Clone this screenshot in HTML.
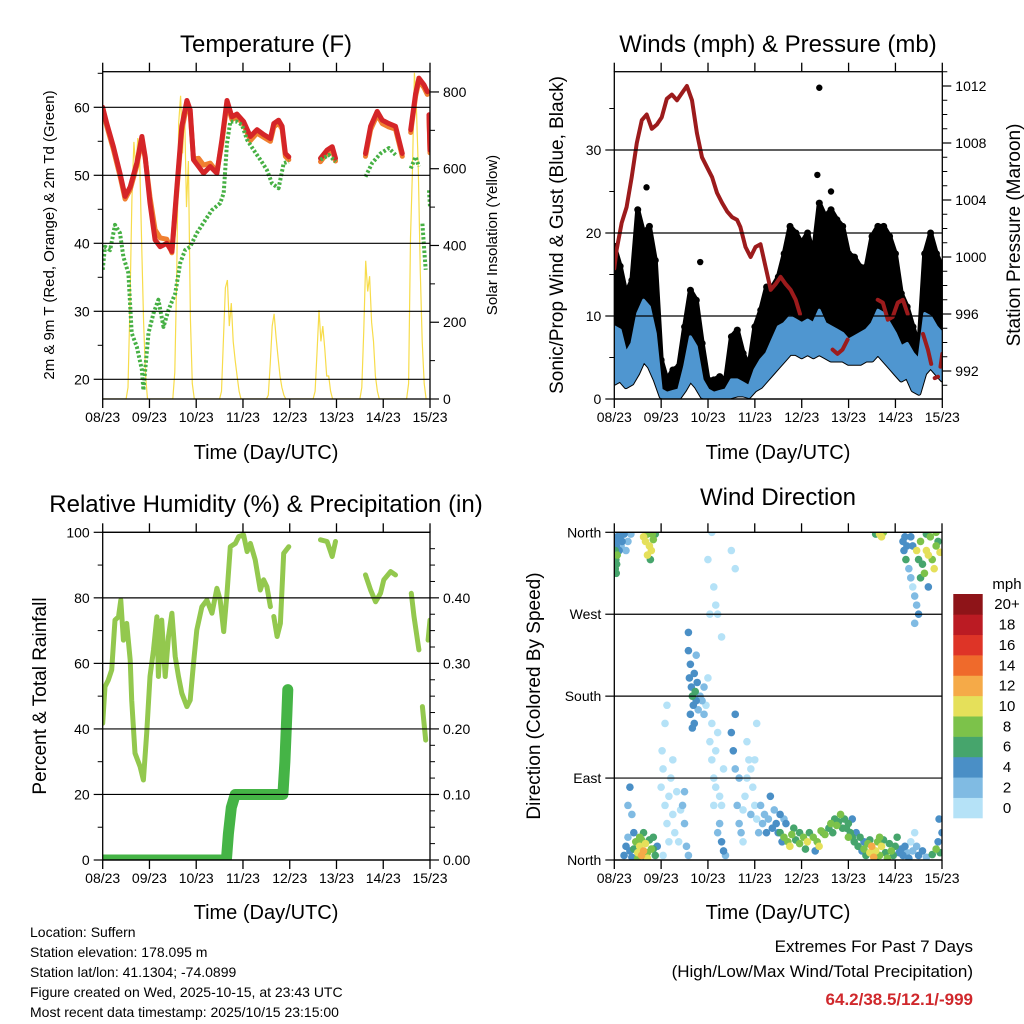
<!DOCTYPE html>
<html><head><meta charset="utf-8">
<style>
html,body{margin:0;padding:0;background:#fff;}
svg{display:block;font-family:"Liberation Sans",Arial,sans-serif;}
</style></head>
<body>
<svg id="chart" width="1024" height="1024" viewBox="0 0 1024 1024" xmlns="http://www.w3.org/2000/svg">
<defs>
<clipPath id="c1"><rect x="102.7" y="71.7" width="327.3" height="327.3"/></clipPath>
<clipPath id="c2"><rect x="614.3" y="71.7" width="328" height="327.3"/></clipPath>
<clipPath id="c3"><rect x="102.7" y="532.3" width="327.3" height="327.7"/></clipPath>
<clipPath id="c4"><rect x="614.3" y="532.3" width="327.7" height="327.7"/></clipPath>
</defs>
<g id="p1"></g>
<g id="p2"></g>
<g id="p3"></g>
<g id="p4"></g>
<text x="266" y="52" font-size="24" text-anchor="middle">Temperature (F)</text>
<text x="778" y="52" font-size="24" text-anchor="middle">Winds (mph) &amp; Pressure (mb)</text>
<text x="266" y="512" font-size="24" text-anchor="middle">Relative Humidity (%) &amp; Precipitation (in)</text>
<text x="778" y="505" font-size="24" text-anchor="middle">Wind Direction</text>
<text x="266" y="459" font-size="20" text-anchor="middle">Time (Day/UTC)</text>
<text x="778" y="459" font-size="20" text-anchor="middle">Time (Day/UTC)</text>
<text x="266" y="919" font-size="20" text-anchor="middle">Time (Day/UTC)</text>
<text x="778" y="919" font-size="20" text-anchor="middle">Time (Day/UTC)</text>
<text transform="translate(54,235) rotate(-90)" font-size="15" text-anchor="middle">2m &amp; 9m T (Red, Orange) &amp; 2m Td (Green)</text>
<text transform="translate(497,235) rotate(-90)" font-size="15" text-anchor="middle">Solar Insolation (Yellow)</text>
<text transform="translate(563,235) rotate(-90)" font-size="19" text-anchor="middle">Sonic/Prop Wind &amp; Gust (Blue, Black)</text>
<text transform="translate(1020,235) rotate(-90)" font-size="19" text-anchor="middle">Station Pressure (Maroon)</text>
<text transform="translate(46,696) rotate(-90)" font-size="19" text-anchor="middle">Percent &amp; Total Rainfall</text>
<text transform="translate(540,696) rotate(-90)" font-size="19" text-anchor="middle">Direction (Colored By Speed)</text>
<g font-size="14">
<text x="30" y="937">Location: Suffern</text>
<text x="30" y="957">Station elevation: 178.095 m</text>
<text x="30" y="977">Station lat/lon: 41.1304; -74.0899</text>
<text x="30" y="997">Figure created on Wed, 2025-10-15, at 23:43 UTC</text>
<text x="30" y="1017">Most recent data timestamp: 2025/10/15 23:15:00</text>
</g>
<g font-size="17" text-anchor="end">
<text x="973" y="952">Extremes For Past 7 Days</text>
<text x="973" y="977">(High/Low/Max Wind/Total Precipitation)</text>
<text x="973" y="1005" fill="#d0282c" font-weight="bold">64.2/38.5/12.1/-999</text>
</g>
</svg>
<script>
// ---------- data ----------
const dayLabels = ["08/23","09/23","10/23","11/23","12/23","13/23","14/23","15/23"];
const tHours = [0,2.1,5.5,8.9,11.5,14.1,17.5,20.1,21.8,24.3,26.9,29.5,32.9,35.5,38.1,40.6,43.2,44.9,46.6,49.2,51.8,55.2,58.6,61.2,63.8,66.3,68.9,72.3,75.8,79.2,82.6,86.1,87.8,90.3,92.1,93.8,95.5,100,111.8,115.2,117.8,119.5,125,134.9,137.5,140.9,143.5,146.9,150.3,153.8,156,158.1,160.6,162.3,164.9,166.6,167,167.5,168];
const tRed    = [60,57.6,54.2,50.3,46.9,48.3,51.8,55.7,52.7,45.9,40.5,39.5,40,38.8,48.3,57.2,61,59.6,52.3,51.3,50.3,51.3,50.3,55.2,61,58.6,59,57.9,55.7,56.7,56,55.4,57.6,58.1,57.2,53.2,52.7,null,52.5,53.7,54.2,52.5,null,53.2,57.2,59.4,58.1,57.6,57.2,53.2,null,56.7,62,64.3,63.3,62.3,null,58.9,53.7];
const tOrange = [59.6,57.2,53.8,49.9,46.5,47.9,51.4,55.3,52.5,46.8,42,40.8,40.6,38.6,47.8,56.6,60.4,59.1,52.4,52.5,51.5,51.8,50.5,54.8,60.6,58.2,58.6,57.5,55.1,56.2,55.6,55,57.1,57.7,56.8,52.8,52.3,null,52,53.3,53.8,52.1,null,52.8,56.7,58.9,57.6,57.1,56.8,52.8,null,56.3,61.6,63.9,62.9,61.9,null,58.5,53.3];
const dHours = [0,1.2,3.8,6.3,8.9,10.6,13.2,14.9,17.5,20.1,20.9,23.5,26.1,28.6,31.2,33.8,37.2,39.8,42.3,44.9,48.3,52.6,56.1,60.3,62.1,63.8,65.5,68.9,71.5,74.1,77.5,80.9,84.3,86.9,90.3,92.9,95.5,100,111.8,116.1,119.5,125,134.9,138.3,142.6,146.9,150.3,155,158.1,160.6,162.3,163,164.1,164.9,165.8,166.5,167.5,168];
const dewPt  = [36.1,39.5,39,42.7,41.5,38,35.6,26.8,24.8,21.4,18.4,26.8,29.7,31.7,27.7,30.2,32.6,37.1,39,39.5,41.5,43.4,44.9,45.9,47.4,54.7,57.9,57.9,57.4,55.2,53.7,52.3,50.8,48.8,48.1,51.8,52,null,52.3,53,52,null,49.8,51.8,53.2,54,53,null,51,52.7,51.3,null,42.9,39.5,36.1,null,47.8,45.4];
const solar = [0,0,0,0,0,0,0,0,0,0,0,0,0,30,250,520,670,600,680,620,400,200,60,0,0,0,0,0,0,0,0,0,0,0,0,0,0,70,320,720,790,640,760,500,620,210,40,0,0,0,0,0,0,0,0,0,0,0,0,0,0,20,160,290,310,190,250,150,100,60,20,0,0,0,0,0,0,0,0,0,0,0,0,0,0,10,90,190,222,160,110,60,30,10,0,0,0,0,0,0,0,0,0,0,0,0,0,0,0,20,120,232,150,190,130,60,60,20,0,0,0,0,0,0,0,0,0,0,0,0,0,0,0,30,180,360,280,320,200,150,60,20,0,0,0,0,0,0,0,0,0,0,0,0,0,0,0,40,420,600,850,760,600,330,150,40,0,0];
const windHours = [0,3,6,9,12,15,18,21,24,27,30,33,36,39,42,45,48,51,54,57,60,63,66,69,72,75,78,81,84,87,90,93,96,99,102,105,108,111,114,117,120,123,126,129,132,135,138,141,144,147,150,153,156,159,162,165,168];
const gustHigh = [18.4,16.0,12.7,14.3,22.8,20.0,20.8,16.7,4.7,2.3,3.5,3.9,8.7,13.1,11.9,6.7,2.3,2.3,2.7,2.3,7.5,8.3,5.5,3.9,8.7,10.7,13.5,13.5,14.7,17.5,20.8,20.0,18.8,20.0,17.5,23.6,22.0,22.8,21.6,20.8,17.5,17.1,15.9,15.9,19.6,20.8,20.8,19.6,17.5,12.7,11.1,8.7,6.3,17.5,20.0,17.5,15.9];
const windHigh = [8.7,8.3,5.5,6.7,10.3,11.9,11.1,7.9,1.1,0.7,0.9,1.1,3.9,7.5,6.3,2.3,1.1,0.7,0.9,1.1,2.3,2.3,1.9,1.5,3.5,4.7,5.5,7.1,8.7,9.1,9.9,9.5,9.1,9.5,9.1,10.7,9.1,8.7,8.3,7.9,7.1,7.5,7.9,8.3,9.1,10.7,10.3,9.1,7.9,6.3,6.7,5.5,4.7,10.3,9.9,8.7,7.9];
const windLow  = [1.9,2.3,1.5,1.9,3.1,4.7,3.9,2.3,0.3,0.1,0.1,0.1,1.1,2.3,1.5,0.3,0.1,0,0,0,0.3,0.5,0.5,0.3,1.1,1.5,2.3,3.1,3.9,4.7,5.5,5.5,5.1,5.5,5.1,5.5,5.1,4.7,4.7,4.7,4.3,4.3,4.3,4.7,4.7,5.5,4.7,3.9,3.1,2.3,2.7,1.1,0.7,3.1,3.9,3.1,2.3];
const gustOutlierHours = [16.5,44,105,104,111];
const gustOutlierVals  = [25.5,16.5,37.5,27,25];
const pHours = [0,1.2,3.8,6.3,8.9,11.5,14.1,16.6,19.2,21.8,24.3,26.9,29.5,32.1,34.6,37.2,39.8,42.3,44.9,47.5,50.1,52.6,55.2,57.8,60.3,62.9,64.6,67.2,69.8,72.3,74.9,77.5,80.1,82.6,85.2,87.8,90.3,92.9,95.1,100,111.8,114.3,116.9,119.5,125,134.9,137.5,140.1,142.6,145.2,147.8,150.3,155,158.1,160.6,162.3,163,164.1,165.8,166.5,167.1,168];
const pressure = [999.2,1000.5,1002.4,1003.5,1005.6,1008,1009.6,1010,1009,1009.3,1009.8,1011.1,1011.4,1011,1011.5,1012,1011,1008.7,1007,1006.3,1005.6,1004.5,1003.8,1003.2,1002.8,1002.6,1002.1,1000.7,1000,1000.7,1000.9,999.3,997.7,998.1,998.6,998.1,997.7,997,996,null,993.5,993.2,993.5,994.2,null,997,996.8,995.6,995.8,996.8,997,996,null,994.6,993.5,992.5,null,991.5,991.6,null,992.3,993.2];
const rhHours = [0,1.2,2.9,4.6,6.3,8.1,9.3,10.6,12.3,14.1,14.9,16.6,19.2,20.9,22.6,24.3,26.1,27.8,28.6,30.3,32.1,33.8,35.5,37.2,38.9,40.6,43.2,44.9,46.6,48.3,50.9,53.5,56.1,58.6,60.3,62.1,63.8,65.5,68.1,69.8,72.3,74.1,75.8,78.3,80.9,82.6,84.3,86.1,87,87.8,89.5,91.2,92.9,95.5,100,111.8,115.2,117.8,119.5,125,134.9,137.5,140.1,142.6,144.3,147.8,150.3,155,158.4,159.8,162.3,163,164.1,165.8,166.5,167,168];
const rh = [41.7,52.9,54.9,58,73.2,74.2,79.3,67.1,72.2,61,48.8,32.6,28.5,24.4,38.7,56,64.1,74.2,56,73.2,56,68.2,75.3,62.1,56,50.9,46.8,48.8,60,70.2,77.3,79.3,75.3,82.9,79.3,69.7,81.4,95.6,96.6,98.7,99.2,94.1,96.6,91.6,82.4,85.5,83.4,77.3,null,74.3,68.2,72.2,93.6,95.6,null,97.7,97.2,92.6,97.2,null,87,82.4,78.8,81.4,85.5,88,87,null,81.4,74.3,64.1,null,46.8,36.6,null,67.1,73.2];
const rainHours = [0,63.5,64.5,66,68,92.5,93.5,94.5,95];
const rain = [0,0,0.04,0.08,0.1,0.1,0.15,0.22,0.26];
const dirHours = [0.3,0.5,0.8,1,1.2,1.5,2,2.5,3,3.5,4,5,0.5,1.5,2.8,6,7,8.5,0.2,1,
15,16,17,18,19,20,21,18.5,17,19.5,
5,6,7,8,9,10,11,12,13,14,15,16,17,18,19,20,21,22,13,15,12,17,10,9,8,7,14,16,20,
24,25,26,27,28,29,30,31,32,33,35,36,37,38,24.5,26,27,34,25,30,28,36,
38.5,39,39.5,40,40.5,41,41.5,42,42.5,43,44,45,46,39,40,41,42,38,38,46,
47,48,49,50,51,52,53,54,55,56,50,52,54,55,56,57,53,51,48,51,52,53,60,55,62,50,49,
60,61,62,63,64,65,66,67,68,69,70,71,72,73,74,62,64,66,68,70,72,73,
75,76,77,78,79,80,81,82,83,84,85,86,87,
85,87,89,90,91,93,95,97,99,100,102,104,105,107,108,110,111,113,114,115,116,117,103,98,92,106,112,95,88,
118,119,120,121,122,123,124,125,126,127,128,120,122,
128,129,130,131,132,133,134,135,136,137,138,139,140,141,142,143,144,145,146,147,134,136,131,
148,149,150,151,152,153,154,155,156,158,160,163,165,166,167,168,166.5,
148,148.5,149,149.5,150,151,152,153,154,152,153,155,156,157,158,159,160,161,162,163,164,165,166,167,157,161,155,156,154,160,165,
134,136,137,138];
const dirDeg = [350,340,330,345,325,355,350,340,355,345,350,358,320,335,360,340,350,358,335,315,
355,350,358,345,340,352,358,330,335,358,
5,15,25,10,3,12,20,8,15,5,10,18,8,22,12,25,5,15,25,30,2,2,30,50,80,60,22,3,12,
80,100,60,40,70,90,50,30,75,20,60,40,15,5,120,150,170,55,5,110,20,75,
200,215,190,180,170,205,185,175,195,165,180,175,160,160,145,150,225,250,230,190,
170,200,130,110,90,80,140,70,60,100,150,120,40,20,10,5,30,60,330,300,280,270,340,245,320,360,270,
140,120,100,60,40,30,55,70,90,110,100,80,60,45,30,160,90,20,130,50,110,150,
60,40,50,30,45,70,35,55,40,30,50,20,45,
30,25,20,15,28,22,18,25,20,30,25,20,15,30,28,35,40,45,38,42,50,35,10,12,35,32,30,30,40,
45,35,40,30,25,20,30,15,25,10,20,25,45,
12,5,18,8,15,3,10,20,5,15,22,8,2,18,10,5,15,25,8,12,2,25,22,
5,15,8,2,20,10,30,15,5,10,3,6,12,20,8,30,45,
350,340,355,330,345,320,310,300,290,355,345,340,330,350,325,315,340,335,355,330,320,345,350,338,310,300,280,270,260,358,360,
358,358,355,360];
const dirSpeed = [4,6,6,4,6,4,2,4,4,2,4,4,6,8,2,2,2,2,4,6,
10,10,8,10,10,8,6,6,10,8,
4,4,2,4,4,6,8,10,10,12,12,10,8,6,8,6,6,4,8,6,8,10,4,2,4,2,8,6,6,
0,0,0,0,0,0,0,0,0,0,2,2,2,2,0,0,0,0,0,0,0,2,
4,4,4,6,4,4,6,4,4,2,2,2,2,4,4,4,2,4,4,2,
0,0,0,0,0,0,0,0,0,0,0,0,2,4,4,2,2,0,0,0,0,0,0,0,0,0,0,
4,4,2,2,2,2,0,0,0,0,0,0,0,0,2,4,2,0,0,2,0,0,
2,2,2,4,2,4,4,2,4,4,4,4,2,
6,8,8,10,8,6,8,8,10,6,8,8,10,6,8,6,8,6,8,6,8,6,4,6,6,8,6,6,4,
6,6,6,6,6,6,4,6,6,4,4,8,4,
8,6,8,10,12,12,10,8,8,10,6,6,8,6,8,6,6,6,4,4,6,8,6,
4,4,2,4,0,2,0,2,4,4,2,6,8,4,6,4,4,
4,4,4,6,4,2,2,0,2,4,4,10,6,8,6,8,10,10,8,8,10,8,6,10,6,4,2,4,2,6,8,
6,10,10,8];
const speedLabels = ["0","2","4","6","8","10","12","14","16","18","20+"];
const speedColors = ["#b5e2f7","#80bbe3","#4a8fc6","#46a56c","#7cc24a","#e5e05a","#f5aa48","#ef6a2b","#de3427","#bb1b23","#8e1418"];

// ---------- helpers ----------
const NS="http://www.w3.org/2000/svg";
function mk(parent,tag,attrs){const e=document.createElementNS(NS,tag);for(const k in attrs)e.setAttribute(k,attrs[k]);parent.appendChild(e);return e;}
function pathFrom(hs,vs,xf,yf){let d="",pen=false;for(let i=0;i<hs.length;i++){if(vs[i]===null||vs[i]===undefined){pen=false;continue;}d+=(pen?"L":"M")+xf(hs[i]).toFixed(1)+","+yf(vs[i]).toFixed(1);pen=true;}return d;}
function frame(g,L,T,R,B,xf,yticks,yf,ylabels,yminor,rtick,rf,rlabels,rminor,rlabx){
  yticks.forEach(v=>{const gl=mk(g,"line",{x1:L,x2:R,y1:yf(v),y2:yf(v),stroke:"#000","stroke-width":1.2});
    
    });
  mk(g,"rect",{x:L,y:T,width:R-L,height:B-T,fill:"none",stroke:"#000","stroke-width":1.3});
  for(let d=0;d<=7;d++){const x=xf(d*24);
    mk(g,"line",{x1:x,x2:x,y1:T-9,y2:T,stroke:"#000","stroke-width":1.3});
    mk(g,"line",{x1:x,x2:x,y1:B,y2:B+9,stroke:"#000","stroke-width":1.3});
    const t=mk(g,"text",{x:x,y:B+23,"font-size":14,"text-anchor":"middle"});t.textContent=dayLabels[d];
    
    }
  yticks.forEach((v,i)=>{const y=yf(v);mk(g,"line",{x1:L-9,x2:L,y1:y,y2:y,stroke:"#000","stroke-width":1.2});
    const t=mk(g,"text",{x:L-13,y:y+5,"font-size":14,"text-anchor":"end"});t.textContent=ylabels[i];
    
    });
  yminor.forEach(v=>{const y=yf(v);mk(g,"line",{x1:L-5,x2:L,y1:y,y2:y,stroke:"#000","stroke-width":1});});
  if(rtick){rtick.forEach((v,i)=>{const y=rf(v);mk(g,"line",{x1:R,x2:R+9,y1:y,y2:y,stroke:"#000","stroke-width":1.2});
    if(rlabels[i]!==""){const t=mk(g,"text",{x:R+rlabx,y:y+5,"font-size":14});t.textContent=rlabels[i];
    
    }});
    rminor.forEach(v=>{const y=rf(v);mk(g,"line",{x1:R,x2:R+5,y1:y,y2:y,stroke:"#000","stroke-width":1});});}
}

// ---------- panel 1: temperature ----------
(function(){
 const g=document.getElementById("p1");
 const L=102.7,R=430,T=71.7,B=399;
 const x=h=>L+h/168*(R-L), y=v=>107.3+(60-v)*6.8, ys=w=>B-w*0.3838;
 const c=mk(g,"g",{"clip-path":"url(#c1)"});
 const sh=solar.map((v,i)=>i);
 const s=mk(c,"path",{d:pathFrom(sh,solar,x,ys),fill:"none",stroke:"#f7dc4a","stroke-width":1.2});
 
 
 const o=mk(c,"path",{d:pathFrom(tHours,tOrange,x,y),fill:"none",stroke:"#f07f30","stroke-width":5,"stroke-linejoin":"round","stroke-linecap":"round"});
 
 
 const r=mk(c,"path",{d:pathFrom(tHours,tRed,x,y),fill:"none",stroke:"#d52528","stroke-width":5,"stroke-linejoin":"round","stroke-linecap":"round"});
 
 
 const d=mk(c,"path",{d:pathFrom(dHours,dewPt,x,y),fill:"none",stroke:"#46b044","stroke-width":4,"stroke-dasharray":"2.5,2","stroke-linejoin":"round"});
 
 
 frame(g,L,T,R,B,x,[20,30,40,50,60],y,["20","30","40","50","60"],[25,35,45,55,65],
   [0,200,400,600,800],ys,["0","200","400","600","800"],[100,300,500,700],13);
})();

// ---------- panel 2: winds ----------
(function(){
 const g=document.getElementById("p2");
 const L=614.3,R=942.3,T=71.7,B=399;
 const x=h=>L+h/168*(R-L), y=v=>B-v*8.3, yp=p=>86+(1012-p)*14.25;
 const c=mk(g,"g",{"clip-path":"url(#c2)"});
 let d="";windHours.forEach((h,i)=>{d+=(i?"L":"M")+x(h).toFixed(1)+","+y(gustHigh[i]).toFixed(1);});
 for(let i=windHours.length-1;i>=0;i--)d+="L"+x(windHours[i]).toFixed(1)+","+y(windLow[i]).toFixed(1);
 const gc=mk(c,"path",{d:d+"Z",fill:"#000",stroke:"#000","stroke-width":5,"stroke-linejoin":"round"});
 
 
 windHours.forEach((h,i)=>{const p=mk(c,"circle",{cx:x(h),cy:y(gustHigh[i]),r:3.5,fill:"#000"});
   
   });
 gustOutlierHours.forEach((h,i)=>{const p=mk(c,"circle",{cx:x(h),cy:y(gustOutlierVals[i]),r:3.2,fill:"#000"});
   
   });
 let d2="";windHours.forEach((h,i)=>{d2+=(i?"L":"M")+x(h).toFixed(1)+","+y(windHigh[i]).toFixed(1);});
 for(let i=windHours.length-1;i>=0;i--)d2+="L"+x(windHours[i]).toFixed(1)+","+y(windLow[i]).toFixed(1);
 const wb=mk(c,"path",{d:d2+"Z",fill:"#4f96d0",stroke:"#4f96d0","stroke-width":3,"stroke-linejoin":"round"});
 
 
 const pl=mk(c,"path",{d:pathFrom(pHours,pressure,x,yp),fill:"none",stroke:"#9c1b1c","stroke-width":4,"stroke-linejoin":"round","stroke-linecap":"round"});
 
 
 const pm=[];for(let p=991;p<=1013;p++)if(p%4)pm.push(p);
 frame(g,L,T,R,B,x,[0,10,20,30],y,["0","10","20","30"],[5,15,25,35],
   [992,996,1000,1004,1008,1012],yp,["992","996","1000","1004","1008","1012"],pm,13);
})();

// ---------- panel 3: humidity ----------
(function(){
 const g=document.getElementById("p3");
 const L=102.7,R=430,T=532.3,B=860;
 const x=h=>L+h/168*(R-L), y=v=>B-v*3.277, yr=p=>B-p*655.4;
 const c=mk(g,"g",{"clip-path":"url(#c3)"});
 const rl=mk(c,"path",{d:pathFrom(rainHours,rain,x,yr),fill:"none",stroke:"#45b446","stroke-width":11,"stroke-linejoin":"round","stroke-linecap":"round"});
 
 
 const hl=mk(c,"path",{d:pathFrom(rhHours,rh,x,y),fill:"none",stroke:"#93c84e","stroke-width":5,"stroke-linejoin":"round","stroke-linecap":"round"});
 
 
 const rm=[];for(let i=1;i<20;i++)if(i%4)rm.push(i*0.025);
 frame(g,L,T,R,B,x,[0,20,40,60,80,100],y,["0","20","40","60","80","100"],[10,30,50,70,90],
   [0,0.1,0.2,0.3,0.4],yr,["0.00","0.10","0.20","0.30","0.40"],rm,13);
})();

// ---------- panel 4: wind direction ----------
(function(){
 const g=document.getElementById("p4");
 const L=614.3,R=942,T=532.3,B=860;
 const x=h=>L+h/168*(R-L), y=v=>B-v/360*(B-T);
 const c=mk(g,"g",{"clip-path":"url(#c4)"});
 const order=dirSpeed.map((s,i)=>i).sort((a,b)=>dirSpeed[a]-dirSpeed[b]);
 order.forEach(i=>{const bin=Math.min(10,Math.floor(dirSpeed[i]/2));
   const p=mk(c,"circle",{cx:x(dirHours[i]),cy:y(dirDeg[i]),r:3.8,fill:speedColors[bin]});
   
   });
 frame(g,L,T,R,B,x,[0,90,180,270,360],y,["North","East","South","West","North"],[],null);
 const cb=mk(g,"g",{});
 
 
 const t0=mk(cb,"text",{x:1007,y:589,"font-size":15,"text-anchor":"middle"});t0.textContent="mph";
 const bh=(818-594)/11;
 speedColors.forEach((col,i)=>{const yy=818-(i+1)*bh;
   const r=mk(cb,"rect",{x:953.3,y:yy,width:29.4,height:bh+0.3,fill:col});
   
   
   const t=mk(cb,"text",{x:1007,y:yy+bh/2+5,"font-size":15,"text-anchor":"middle"});t.textContent=speedLabels[i];
   
   });
})();
</script>
</body></html>
